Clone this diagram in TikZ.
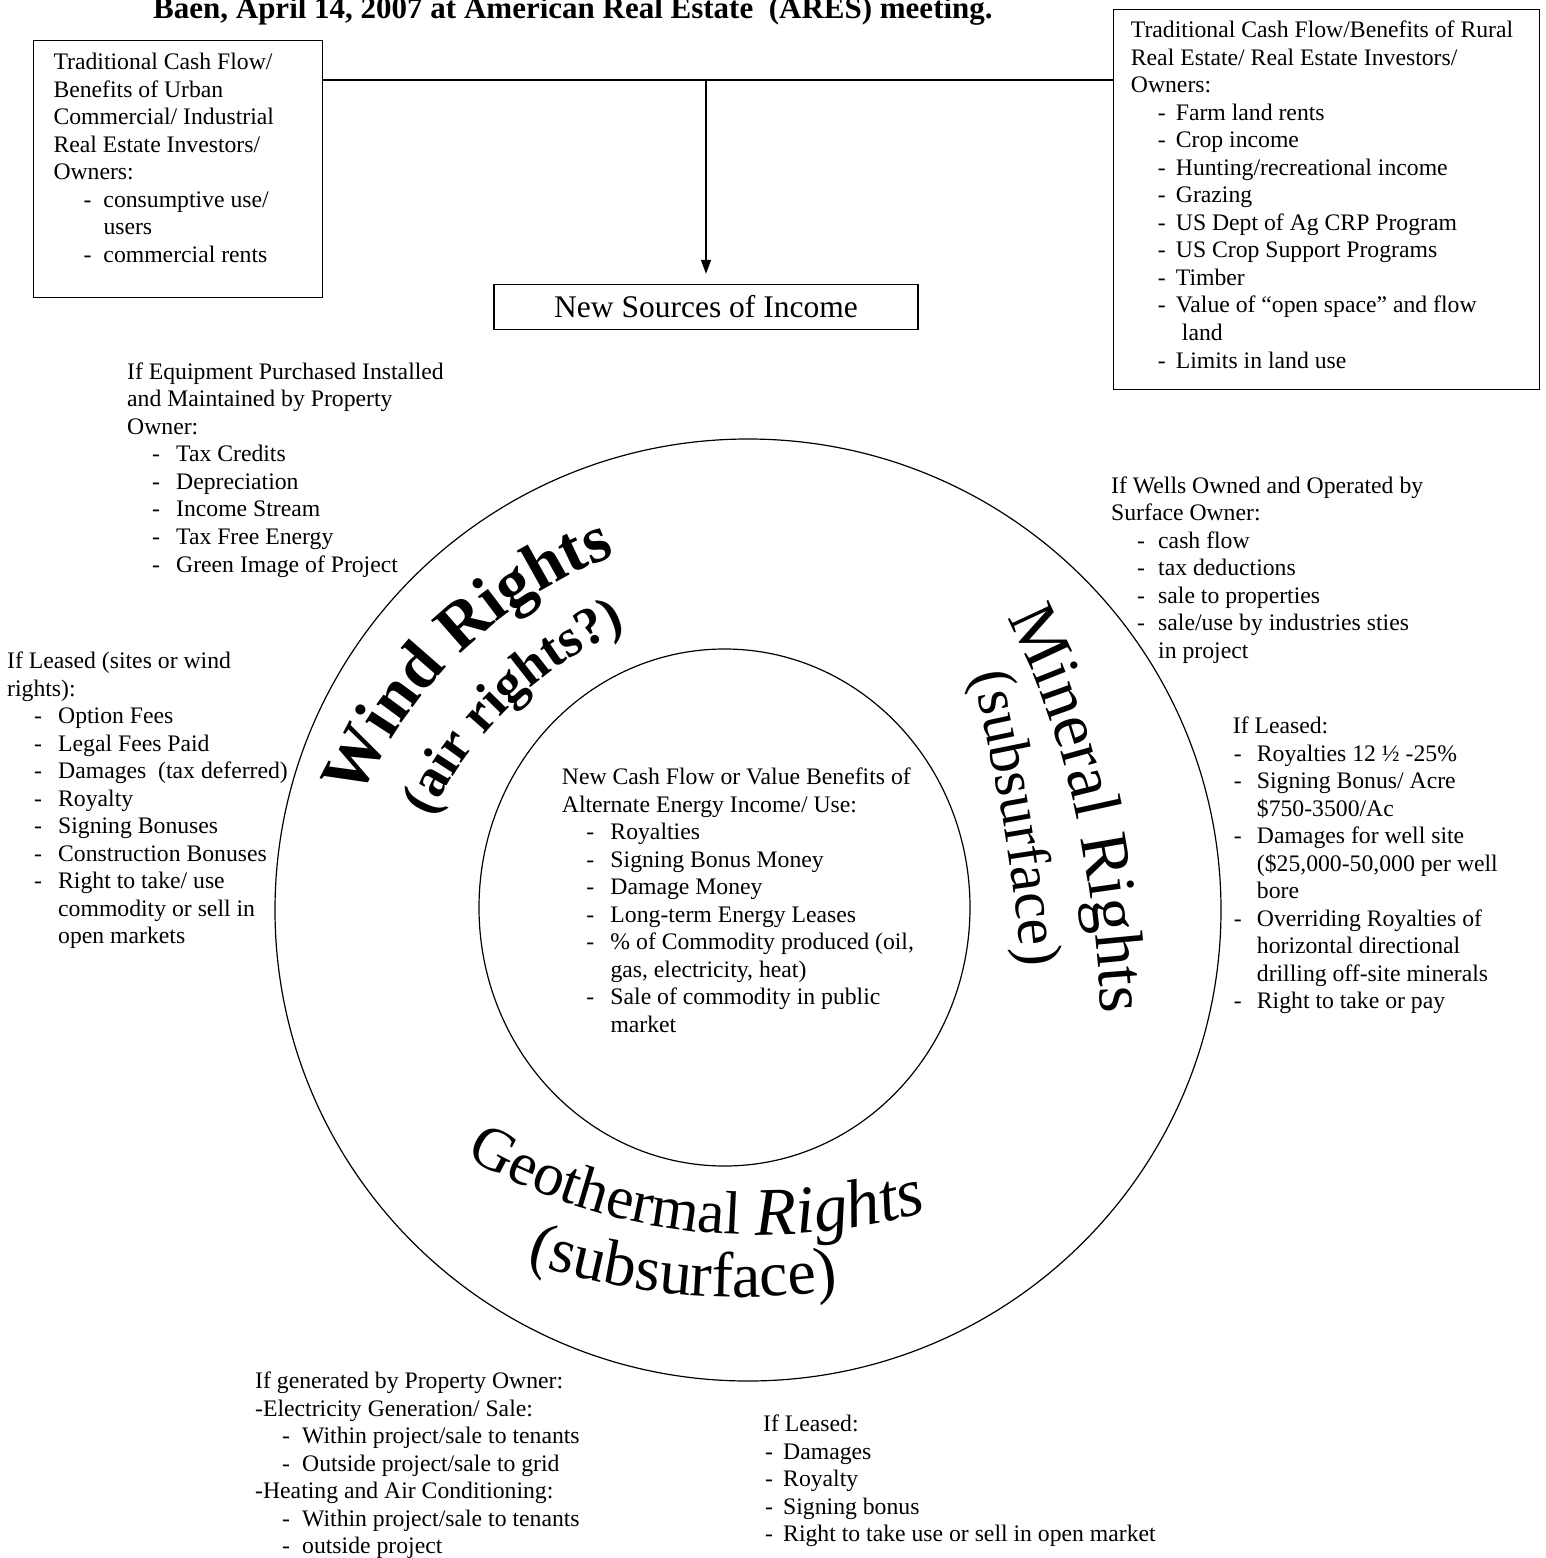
\documentclass[tikz,border=0pt]{standalone}
\usepackage{fontspec}
\setmainfont{Liberation Serif}
\usetikzlibrary{arrows.meta,decorations.text}
\newcommand{\dsh}[2]{\makebox[#2pt][l]{\hspace*{#1pt}-}}
\newcommand{\ind}[1]{\hspace*{#1pt}}
\begin{document}
\begin{tikzpicture}[x=1pt,y=1pt,
  body/.style={anchor=north west, inner sep=0pt, align=left, font=\fontsize{23.7}{27.55}\selectfont},
  frame/.style={draw, line width=1.3pt, anchor=north west, inner sep=0pt},
  ring/.style={draw, line width=1.2pt},
  link/.style={draw, line width=1.3pt},
  curved/.style={decorate, decoration={text along path, text align=center, text={#1}}},
  curvedl/.style={decorate, decoration={text along path, text align=left, text={#1}}}
]
\useasboundingbox (0,0) rectangle (1546,-1558);

% title (cut at the top edge)
\node[anchor=base west, inner sep=0pt, font=\fontsize{31}{36}\selectfont\bfseries] (title) at (153,-18.5)
  {Baen, April 14, 2007 at American Real Estate\ \ (ARES) meeting.};

% boxes
\node[frame, minimum width=289pt, minimum height=257pt] (leftbox) at (33,-40) {};
\node[frame, minimum width=426pt, minimum height=380pt] (rightbox) at (1113,-9) {};
\node[frame, anchor=center, minimum width=424pt, minimum height=45pt,
      font=\fontsize{31.5}{36}\selectfont] (newsrc) at (706,-307) {New Sources of Income};

\coordinate (junc) at (706,-80);
\draw[link] (junc -| leftbox.east) -- (junc -| rightbox.west);
\draw[link, -{Triangle[length=14pt,width=10pt]}, shorten >=10pt] (junc) -- (junc |- newsrc.north);

% box texts
\node[body] (lefttxt) at (53.3,-50) {\strut Traditional Cash Flow/\\
Benefits of Urban\\
Commercial/ Industrial\\
Real Estate Investors/\\
Owners:\\
\dsh{30}{50}consumptive use/\\
\ind{50}users\\
\dsh{30}{50}commercial rents};

\node[body] (righttxt) at (1130.7,-18) {\strut Traditional Cash Flow/Benefits of Rural\\
Real Estate/ Real Estate Investors/\\
Owners:\\
\dsh{27}{45}Farm land rents\\
\dsh{27}{45}Crop income\\
\dsh{27}{45}Hunting/recreational income\\
\dsh{27}{45}Grazing\\
\dsh{27}{45}US Dept of Ag CRP Program\\
\dsh{27}{45}US Crop Support Programs\\
\dsh{27}{45}Timber\\
\dsh{27}{45}Value of “open space” and flow\\
\ind{51}land\\
\dsh{27}{45}Limits in land use};

% free texts
\node[body] (equip) at (127,-359.7) {\strut If Equipment Purchased Installed\\
and Maintained by Property\\
Owner:\\
\dsh{25}{49}Tax Credits\\
\dsh{25}{49}Depreciation\\
\dsh{25}{49}Income Stream\\
\dsh{25}{49}Tax Free Energy\\
\dsh{25}{49}Green Image of Project};

\node[body] (wells) at (1111,-473.7) {\strut If Wells Owned and Operated by\\
Surface Owner:\\
\dsh{26}{47}cash flow\\
\dsh{26}{47}tax deductions\\
\dsh{26}{47}sale to properties\\
\dsh{26}{47}sale/use by industries sties\\
\ind{47}in project};

\node[body] (windlease) at (7,-649) {\strut If Leased (sites or wind\\
rights):\\
\dsh{27}{51}Option Fees\\
\dsh{27}{51}Legal Fees Paid\\
\dsh{27}{51}Damages\ \ (tax deferred)\\
\dsh{27}{51}Royalty\\
\dsh{27}{51}Signing Bonuses\\
\dsh{27}{51}Construction Bonuses\\
\dsh{27}{51}Right to take/ use\\
\ind{51}commodity or sell in\\
\ind{51}open markets};

\node[body] (minlease) at (1232.7,-714) {\strut If Leased:\\
\dsh{1}{24}Royalties 12 ½ -25\%\\
\dsh{1}{24}Signing Bonus/ Acre\\
\ind{24}\$750-3500/Ac\\
\dsh{1}{24}Damages for well site\\
\ind{24}(\$25,000-50,000 per well\\
\ind{24}bore\\
\dsh{1}{24}Overriding Royalties of\\
\ind{24}horizontal directional\\
\ind{24}drilling off-site minerals\\
\dsh{1}{24}Right to take or pay};

\node[body] (center) at (561.7,-765) {\strut New Cash Flow or Value Benefits of\\
Alternate Energy Income/ Use:\\
\dsh{24.5}{48.6}Royalties\\
\dsh{24.5}{48.6}Signing Bonus Money\\
\dsh{24.5}{48.6}Damage Money\\
\dsh{24.5}{48.6}Long-term Energy Leases\\
\dsh{24.5}{48.6}\% of Commodity produced (oil,\\
\ind{48.6}gas, electricity, heat)\\
\dsh{24.5}{48.6}Sale of commodity in public\\
\ind{48.6}market};

\node[body] (geogen) at (255,-1369) {\strut If generated by Property Owner:\\
-Electricity Generation/ Sale:\\
\dsh{27}{47}Within project/sale to tenants\\
\dsh{27}{47}Outside project/sale to grid\\
-Heating and Air Conditioning:\\
\dsh{27}{47}Within project/sale to tenants\\
\dsh{27}{47}outside project};

\node[body] (geolease) at (763,-1412) {\strut If Leased:\\
\dsh{2}{20}Damages\\
\dsh{2}{20}Royalty\\
\dsh{2}{20}Signing bonus\\
\dsh{2}{20}Right to take use or sell in open market};

% rings
\draw[ring] (748,-910) ellipse [x radius=473, y radius=471];
\draw[ring] (724.5,-907.5) ellipse [x radius=245.5, y radius=258.5];

% curved titles
\path[curved={|\fontsize{67}{73}\selectfont\bfseries|Wind Rights}]
  (776,-979) ++(156.5:453) arc[start angle=156.5, end angle=111, radius=453];
\path[curved={|\fontsize{54}{60}\selectfont\bfseries|(air rights?)}]
  (776,-979) ++(157:381) arc[start angle=157, end angle=111, radius=381];
\path[curved={|\fontsize{68}{74}\selectfont|Mineral Rights}]
  (1000,-605) .. controls (1070,-730) and (1096,-885) .. (1102,-1028);
\path[curved={|\fontsize{60}{66}\selectfont|(subsurface)}]
  (972,-670) .. controls (995,-770) and (1015,-870) .. (1022,-972);
\path[curvedl={|\fontsize{61}{67}\selectfont|Geothermal}]
  (760,-637) ++(240.5:598) arc[start angle=240.5, end angle=268.5, radius=598];
\path[curved={|\fontsize{64}{70}\selectfont|(subsurface)}]
  (740,-619) ++(250.5:678) arc[start angle=250.5, end angle=279.5, radius=678];
\path[curvedl={|\fontsize{68}{74}\selectfont\itshape|Rights}]
  (760,-637) ++(269.6:598) arc[start angle=269.6, end angle=289, radius=598];
\end{tikzpicture}
\end{document}
